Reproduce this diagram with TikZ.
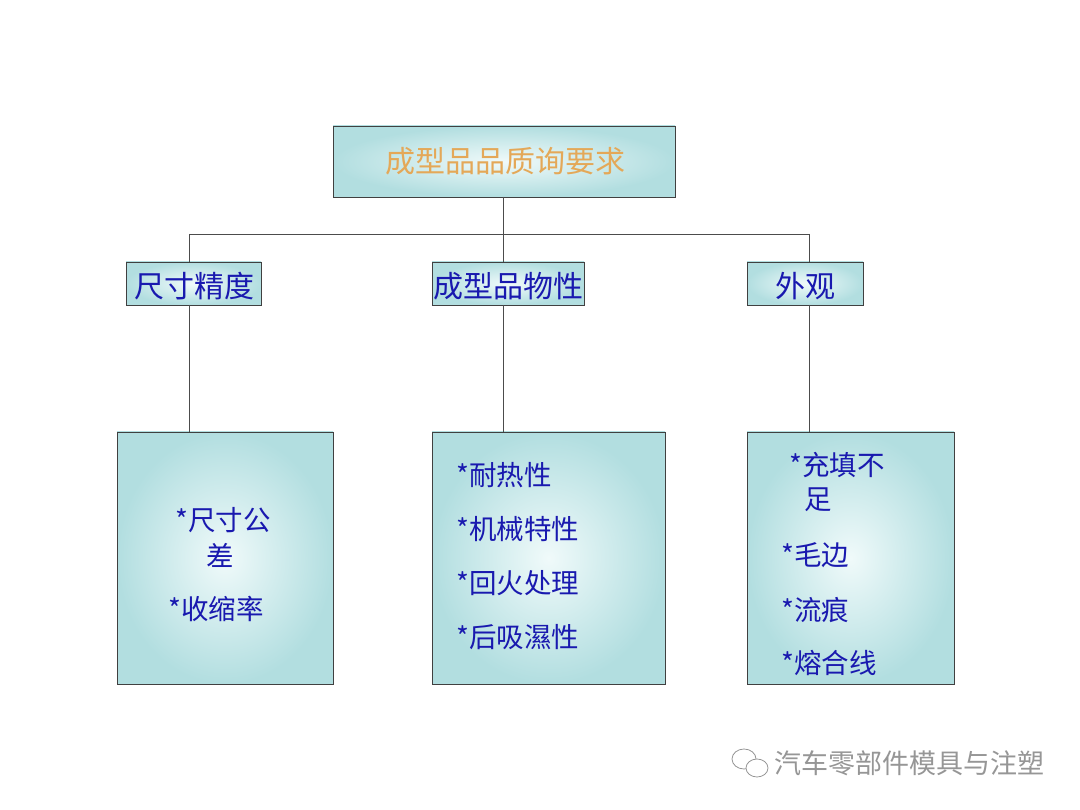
\documentclass[tikz,border=0pt]{standalone}
\usepackage{fontspec}
\newfontfamily\cjk{Noto Sans CJK SC}
\definecolor{bx}{RGB}{178,222,224}
\definecolor{bxl}{RGB}{240,250,250}
\definecolor{tb}{RGB}{25,25,175}
\definecolor{tor}{RGB}{228,168,88}
\definecolor{wm}{RGB}{150,150,150}
\tikzset{
 box/.style={draw=black!75,line width=0.9pt,inner color=bxl,outer color=bx},
 ln/.style={draw=black!70,line width=0.9pt},
 bt/.style={font=\cjk\fontsize{27.5}{29}\selectfont,text=tb,anchor=west,inner sep=0},
 l2/.style={font=\cjk\fontsize{30}{32}\selectfont,text=tb},
}
\begin{document}
\begin{tikzpicture}[x=1pt,y=-1pt]
\useasboundingbox (0,0) rectangle (1080,810);
\fill[white] (0,0) rectangle (1080,810);
% top
\shade[box] (333,126) rectangle (675,197);
\node[font=\cjk\fontsize{30}{32}\selectfont,text=tor] (top) at (505,161) {成型品品质询要求};
\coordinate (tb) at (503,197);
% level 2
\shade[box] (126,262) rectangle (261,305);
\shade[box] (432,262) rectangle (584,305);
\shade[box] (747,262) rectangle (863,305);
\node[l2] (a) at (194,286) {尺寸精度};
\node[l2] (b) at (508,286) {成型品物性};
\node[l2] (c) at (805,286) {外观};
% bottom
\shade[box] (117,432) rectangle (333,684);
\shade[box] (432,432) rectangle (665,684);
\shade[box] (747,432) rectangle (954,684);
% connectors
\coordinate (h1) at (189,234); \coordinate (h2) at (809,234);
\draw[ln] (h1) -- (h2);
\draw[ln] (tb) -- (503,262);
\draw[ln] (h1) -- (189,262);
\draw[ln] (h2) -- (809,262);
\draw[ln] (189,305) -- (189,432);
\draw[ln] (503,305) -- (503,432);
\draw[ln] (809,305) -- (809,432);
% bottom texts
\node[bt] (l1) at (175,520) {*尺寸公};
\node[bt] (l2) at (206,555) {差};
\node[bt] (l3) at (168,609) {*收缩率};
\node[bt] (m1) at (456,475) {*耐热性};
\node[bt] (m2) at (456,529) {*机械特性};
\node[bt] (m3) at (456,583) {*回火处理};
\node[bt] (m4) at (456,637) {*后吸濕性};
\node[bt] (r1) at (789,465) {*充填不};
\node[bt] (r2) at (804,500) {足};
\node[bt] (r3) at (781,555) {*毛边};
\node[bt] (r4) at (781,610) {*流痕};
\node[bt] (r5) at (781,663) {*熔合线};
% watermark
\draw[wm,line width=0.8pt] (744,759) ellipse (12 and 10);
\fill[white] (757,768) ellipse (11 and 9);
\draw[wm,line width=0.8pt] (757,768) ellipse (11 and 9);
\node[font=\cjk\fontsize{27}{29}\selectfont,text=wm,anchor=west,inner sep=0] (w) at (774,763) {汽车零部件模具与注塑};
\end{tikzpicture}
\end{document}
